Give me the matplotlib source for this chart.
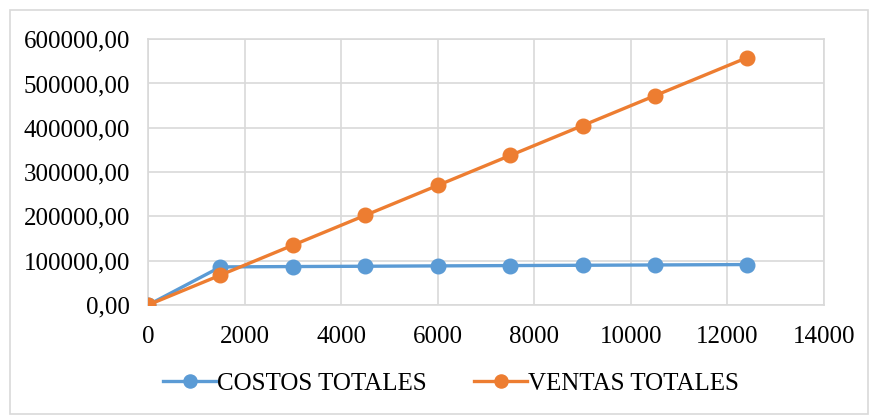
import matplotlib as mpl

mpl.use("Agg")

import matplotlib.pyplot as plt
from matplotlib.patches import Rectangle
from matplotlib.ticker import FuncFormatter

# unidades producidas y vendidas
unidades = [0, 1500, 3000, 4500, 6000, 7500, 9000, 10500, 12400]
costos_totales = [0, 86000, 86800, 87500, 88300, 89000, 89700, 90400, 91300]
ventas_totales = [0, 67500, 135000, 202500, 270000, 337500, 405000, 472500, 558000]

AZUL = "#5B9BD5"
NARANJA = "#ED7D31"
GRIS = "#D9D9D9"

plt.rcParams["font.family"] = ["Liberation Serif", "DejaVu Serif"]

fig = plt.figure(figsize=(8.71, 4.16), dpi=100)
ax = fig.add_axes([0.170, 0.2668, 0.776, 0.639])

ax.plot(unidades, costos_totales, color=AZUL, linewidth=2.4, marker="o",
        markersize=10.5, label="COSTOS TOTALES", zorder=3)
ax.plot(unidades, ventas_totales, color=NARANJA, linewidth=2.4, marker="o",
        markersize=10.5, label="VENTAS TOTALES", zorder=4)

ax.set_xlim(0, 14000)
ax.set_ylim(0, 600000)
ax.set_xticks(range(0, 14001, 2000))
ax.set_yticks(range(0, 600001, 100000))
ax.yaxis.set_major_formatter(FuncFormatter(lambda v, _: f"{v:.2f}".replace(".", ",")))

ax.grid(color=GRIS, linewidth=1.2)
ax.set_axisbelow(True)
for spine in ax.spines.values():
    spine.set_color(GRIS)
    spine.set_linewidth(1.2)
ax.tick_params(length=0, labelsize=18, pad=15, colors="black")
ax.tick_params(axis="y", pad=13)

fig.legend(loc="center", bbox_to_anchor=(0.518, 0.077), ncol=2, frameon=False,
           fontsize=18, handlelength=2.1, columnspacing=1.9, handletextpad=0.05,
           markerscale=0.9)

# borde del área del gráfico
fig.patches.append(Rectangle((0.011, 0.004), 0.986, 0.972, transform=fig.transFigure,
                             fill=False, edgecolor=GRIS, linewidth=1.2))

fig.savefig("out.png", dpi=100)
